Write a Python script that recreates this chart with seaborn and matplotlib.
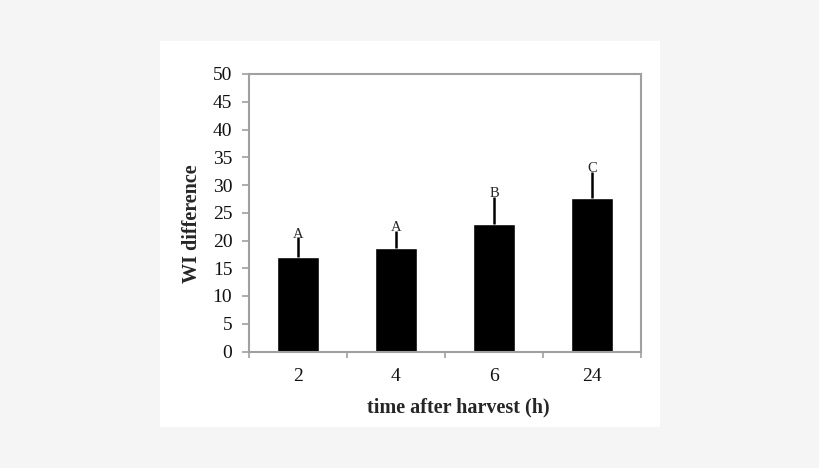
import numpy as np
import pandas as pd
import matplotlib
matplotlib.use('Agg')
import matplotlib.pyplot as plt
import seaborn as sns
from matplotlib.patches import Rectangle

# data
times = ['2', '4', '6', '24']
wi_diff = [17.0, 18.7, 22.9, 27.6]
wi_err = [3.6, 3.0, 5.0, 4.8]
letters = ['A', 'A', 'B', 'C']

df = pd.DataFrame({'time': times, 'wi': wi_diff})

sns.set_style('white')
plt.rcParams['font.family'] = ['Liberation Serif', 'DejaVu Serif']

fig = plt.figure(figsize=(8.2, 4.68), dpi=100, facecolor='#f5f5f5')
# white panel behind the chart
fig.patches.append(Rectangle((160 / 820, 1 - 427 / 468), 500 / 820, 386 / 468,
                             transform=fig.transFigure, facecolor='white',
                             edgecolor='none', zorder=-10))
ax = fig.add_axes([249 / 820, 1 - 351.5 / 468, 392 / 820, 277.5 / 468])
ax.set_facecolor('white')

sns.barplot(data=df, x='time', y='wi', color='black', width=0.42,
            errorbar=None, saturation=1, ax=ax)
xpos = np.arange(len(times))
ax.errorbar(xpos, wi_diff, yerr=[np.zeros(len(wi_err)), wi_err], fmt='none',
            ecolor='black', elinewidth=1.8, capsize=0)
for x, y, e, lab in zip(xpos, wi_diff, wi_err, letters):
    ax.text(x, y + e - 0.6, lab, ha='center', va='bottom', fontsize=10.5)

ax.set_ylim(0, 50)
ax.set_yticks(np.arange(0, 51, 5))
ax.set_xlim(-0.5, 3.5)
ax.set_xticks(np.arange(-0.5, 4, 1), minor=True)

for s in ax.spines.values():
    s.set_color('#a0a0a0')
    s.set_linewidth(1.5)

ax.tick_params(axis='y', which='major', direction='out', length=5, width=1.2,
               color='#a0a0a0', labelsize=14, pad=7, left=True, labelcolor='#111111')
ax.tick_params(axis='x', which='major', length=0, labelsize=14, pad=12,
               labelcolor='#111111')
ax.tick_params(axis='x', which='minor', direction='out', length=4, width=1.2,
               color='#a0a0a0', bottom=True)

ax.set_xlabel('time after harvest (h)', fontsize=14.5, fontweight='bold', labelpad=9)
ax.set_ylabel('WI difference', fontsize=14.5, fontweight='bold', labelpad=8)
ax.xaxis.label.set_x(0.533)
ax.yaxis.label.set_y(0.46)

fig.savefig('out.png', dpi=100, facecolor=fig.get_facecolor())
